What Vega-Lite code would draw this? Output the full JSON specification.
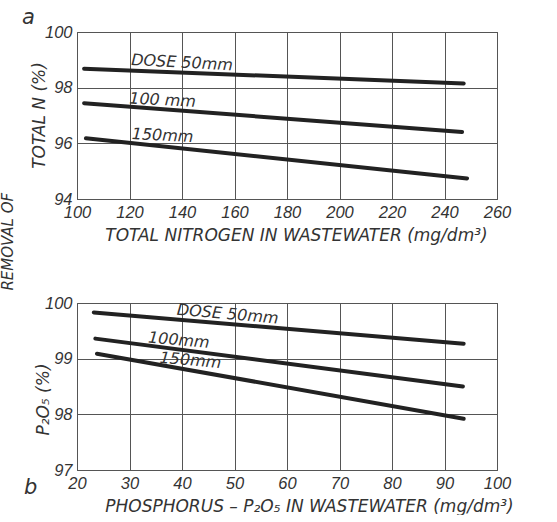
{
  "$schema": "https://vega.github.io/schema/vega-lite/v6.json",
  "background": "white",
  "padding": {"left": 0, "top": 6, "right": 10, "bottom": 0},
  "title": {
    "text": "REMOVAL  OF",
    "orient": "left",
    "anchor": "middle",
    "offset": 6,
    "dx": 19,
    "fontSize": 15,
    "fontStyle": "italic",
    "fontWeight": "normal",
    "font": "DejaVu Sans",
    "color": "#333"
  },
  "config": {
    "font": "DejaVu Sans",
    "view": {"stroke": "#444", "strokeWidth": 1},
    "axis": {
      "labelFont": "Liberation Sans",
      "labelFontSize": 16.5,
      "labelFontStyle": "italic",
      "labelColor": "#333",
      "labelFlush": false,
      "titleFont": "DejaVu Sans",
      "titleFontSize": 17,
      "titleFontStyle": "italic",
      "titleFontWeight": "normal",
      "titleColor": "#333",
      "grid": true,
      "gridColor": "#555",
      "gridWidth": 1,
      "gridOpacity": 1,
      "domain": false,
      "ticks": false,
      "labelPadding": 5
    },
    "text": {"font": "DejaVu Sans"}
  },
  "datasets": {
    "nitrogen": [
      {"dose": "50 mm", "n": 102.7, "removal": 98.68},
      {"dose": "50 mm", "n": 247.3, "removal": 98.15},
      {"dose": "100 mm", "n": 102.7, "removal": 97.44},
      {"dose": "100 mm", "n": 246.7, "removal": 96.41},
      {"dose": "150 mm", "n": 103.4, "removal": 96.18},
      {"dose": "150 mm", "n": 248.6, "removal": 94.74}
    ],
    "nitrogenLabels": [
      {"label": "DOSE  50mm", "n": 140, "removal": 98.9},
      {"label": "100 mm", "n": 132.6, "removal": 97.55},
      {"label": "150mm", "n": 132.6, "removal": 96.28}
    ],
    "phosphorus": [
      {"dose": "50 mm", "p": 23.2, "removal": 99.83},
      {"dose": "50 mm", "p": 93.65, "removal": 99.27},
      {"dose": "100 mm", "p": 23.5, "removal": 99.36},
      {"dose": "100 mm", "p": 93.5, "removal": 98.5},
      {"dose": "150 mm", "p": 23.8, "removal": 99.09},
      {"dose": "150 mm", "p": 93.65, "removal": 97.92}
    ],
    "phosphorusLabels": [
      {"label": "DOSE  50mm", "p": 48.7, "removal": 99.8},
      {"label": "100mm", "p": 39.4, "removal": 99.33},
      {"label": "150mm", "p": 41.6, "removal": 98.97}
    ]
  },
  "spacing": 50,
  "vconcat": [
    {
      "width": 420,
      "height": 167,
      "title": {
        "text": "a",
        "anchor": "start",
        "frame": "group",
        "dx": -55,
        "offset": -4,
        "fontSize": 21,
        "fontStyle": "italic",
        "fontWeight": "normal",
        "color": "#333"
      },
      "layer": [
        {
          "data": {"name": "nitrogen"},
          "mark": {"type": "line", "strokeWidth": 4, "color": "#222", "strokeCap": "round"},
          "encoding": {
            "x": {
              "field": "n",
              "type": "quantitative",
              "scale": {"domain": [100, 260], "nice": false, "zero": false},
              "axis": {
                "values": [100, 120, 140, 160, 180, 200, 220, 240, 260],
                "title": "TOTAL NITROGEN IN WASTEWATER (mg/dm³)",
                "titlePadding": 7,
                "titleX": 219
              }
            },
            "y": {
              "field": "removal",
              "type": "quantitative",
              "scale": {"domain": [94, 100], "nice": false, "zero": false},
              "axis": {
                "values": [94, 96, 98, 100],
                "format": "d",
                "title": "TOTAL  N  (%)",
                "titleX": -29,
                "titleY": 83
              }
            },
            "detail": {"field": "dose"}
          }
        },
        {
          "data": {"name": "nitrogenLabels"},
          "mark": {"type": "text", "fontSize": 16, "fontStyle": "italic", "color": "#333", "angle": 3},
          "encoding": {
            "x": {"field": "n", "type": "quantitative"},
            "y": {"field": "removal", "type": "quantitative"},
            "text": {"field": "label"}
          }
        }
      ]
    },
    {
      "width": 420,
      "height": 167,
      "title": {
        "text": "b",
        "orient": "bottom",
        "anchor": "start",
        "frame": "group",
        "dx": -53,
        "offset": -38,
        "fontSize": 21,
        "fontStyle": "italic",
        "fontWeight": "normal",
        "color": "#333"
      },
      "layer": [
        {
          "data": {"name": "phosphorus"},
          "mark": {"type": "line", "strokeWidth": 4, "color": "#222", "strokeCap": "round"},
          "encoding": {
            "x": {
              "field": "p",
              "type": "quantitative",
              "scale": {"domain": [20, 100], "nice": false, "zero": false},
              "axis": {
                "values": [20, 30, 40, 50, 60, 70, 80, 90, 100],
                "title": "PHOSPHORUS – P₂O₅ IN WASTEWATER (mg/dm³)",
                "titlePadding": 7,
                "titleX": 232
              }
            },
            "y": {
              "field": "removal",
              "type": "quantitative",
              "scale": {"domain": [97, 100], "nice": false, "zero": false},
              "axis": {
                "values": [97, 98, 99, 100],
                "format": "d",
                "title": "P₂O₅   (%)",
                "titleX": -25,
                "titleY": 96
              }
            },
            "detail": {"field": "dose"}
          }
        },
        {
          "data": {"name": "phosphorusLabels"},
          "mark": {"type": "text", "fontSize": 16, "fontStyle": "italic", "color": "#333", "angle": 5},
          "encoding": {
            "x": {"field": "p", "type": "quantitative"},
            "y": {"field": "removal", "type": "quantitative"},
            "text": {"field": "label"}
          }
        }
      ]
    }
  ]
}
